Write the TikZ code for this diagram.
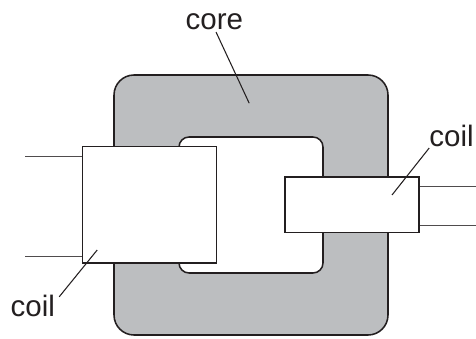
\documentclass[tikz,border=0pt]{standalone}
\usepackage{fontspec}
\setmainfont{Liberation Sans}
\usepackage{tikz}
\usetikzlibrary{positioning}
\definecolor{coregray}{HTML}{BCBEC0}
\definecolor{inkblack}{HTML}{231F20}
\tikzset{
  coilbox/.style={draw=inkblack,line width=1.1pt,fill=white,inner sep=0pt},
  wire/.style={draw=inkblack!80,line width=0.6pt},
  leader/.style={draw=inkblack,line width=0.75pt},
  lbl/.style={inner sep=0pt,text=inkblack,font=\fontsize{21}{25}\selectfont}
}
\begin{document}
\begin{tikzpicture}
\useasboundingbox (0cm,0cm) rectangle (11.9cm,8.45cm);
\draw[inkblack,line width=1.1pt,fill=coregray,rounded corners=0.5cm] (2.85cm,0.075cm) rectangle (9.7cm,6.575cm);
\draw[inkblack,line width=1.1pt,fill=white,rounded corners=0.25cm] (4.475cm,1.625cm) rectangle (8.075cm,5.025cm);
\node[coilbox,minimum width=3.35cm,minimum height=2.92cm,anchor=south west] (coilL) at (2.04cm,1.85cm) {};
\node[coilbox,minimum width=3.35cm,minimum height=1.39cm,anchor=south west] (coilR) at (7.105cm,2.62cm) {};
\coordinate (wireLa) at (0.625cm,4.55cm);
\coordinate (wireLb) at (0.625cm,2.05cm);
\coordinate (wireRa) at (11.9cm,3.8cm);
\coordinate (wireRb) at (11.9cm,2.825cm);
\draw[wire] (wireLa) -- (coilL.west |- wireLa);
\draw[wire] (wireLb) -- (coilL.west |- wireLb);
\draw[wire] (coilR.east |- wireRa) -- (wireRa);
\draw[wire] (coilR.east |- wireRb) -- (wireRb);
\node[lbl] (coreLabel) at (5.36cm,7.9cm) {core};
\node[lbl] (coilLabelL) at (0.82cm,0.8cm) {coil};
\node[lbl] (coilLabelR) at (11.29cm,5.05cm) {coil};
\coordinate (coreEnd) at (6.23cm,5.87cm);
\coordinate (coilEndL) at (2.43cm,2.2cm);
\coordinate (coilEndR) at (9.8cm,3.575cm);
\draw[leader] (5.4cm,7.65cm) -- (coreEnd);
\draw[leader] (1.48cm,1.03cm) -- (coilEndL);
\draw[leader] (10.73cm,4.75cm) -- (coilEndR);
\end{tikzpicture}
\end{document}
